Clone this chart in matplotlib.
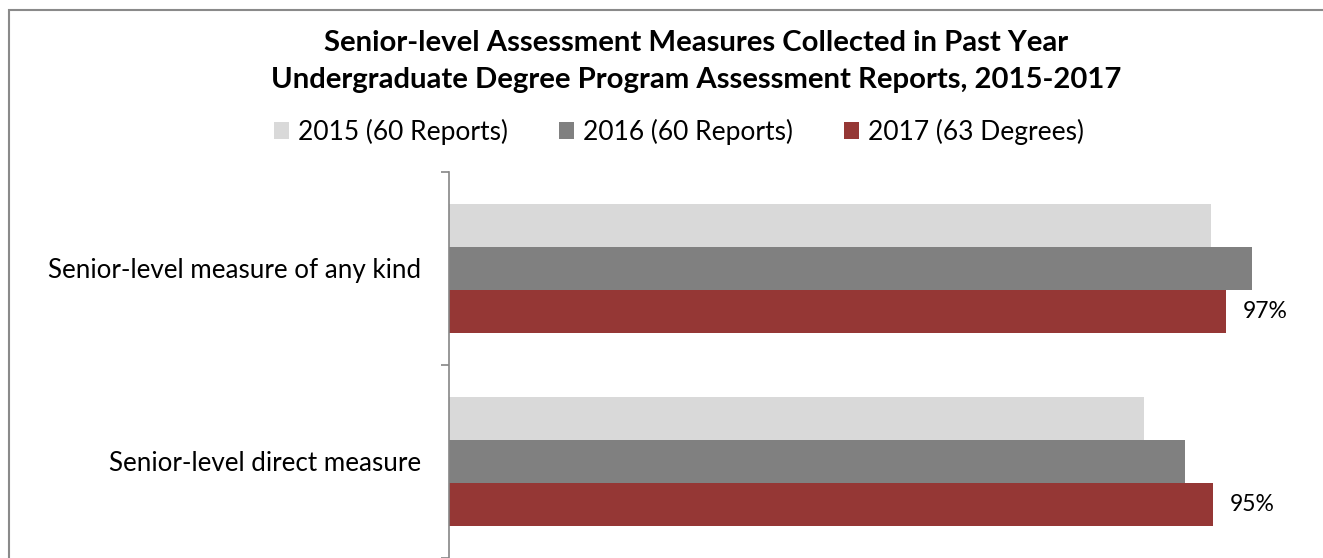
import matplotlib
matplotlib.use("Agg")
import matplotlib.pyplot as plt
from matplotlib.patches import Rectangle
import numpy as np

plt.rcParams['font.family'] = ['Lato', 'DejaVu Sans']

categories = ["Senior-level measure of any kind", "Senior-level direct measure"]
series = ["2015 (60 Reports)", "2016 (60 Reports)", "2017 (63 Degrees)"]
pct_2015 = [57 / 60 * 100, 52 / 60 * 100]
pct_2016 = [60 / 60 * 100, 55 / 60 * 100]
pct_2017 = [61 / 63 * 100, 60 / 63 * 100]
labels_2017 = ["97%", "95%"]
colors = ["#d9d9d9", "#808080", "#953735"]

W, H = 1323, 558
fig = plt.figure(figsize=(W / 100, H / 100), dpi=100)

# chart frame (cropped on right and bottom)
fig.patches.append(Rectangle((9 / W, -0.1), 2.0, (H - 9.5) / H + 0.1,
                             transform=fig.transFigure, fill=False,
                             edgecolor="#8a8a8a", linewidth=1.5))

left, top, right = 448.5, 171.7, 1300
ax = fig.add_axes([left / W, 0, (right - left) / W, (H - top) / H])
px_per_pct = 8.03
ax.set_xlim(0, (right - left) / px_per_pct)
ax.set_ylim(1.5, -0.5)

y = np.arange(len(categories))
h = 0.223
bars = []
for i, (vals, c) in enumerate(zip([pct_2015, pct_2016, pct_2017], colors)):
    bars.append(ax.barh(y + (i - 1) * h, vals, height=h, color=c, label=series[i]))

for yi, v, lab in zip(y, pct_2017, labels_2017):
    ax.annotate(lab, (v, yi + h), xytext=(12, 0), textcoords="offset points",
                va="center", ha="left", fontsize=16.5, color="#000000")

for s in ["top", "right", "bottom"]:
    ax.spines[s].set_visible(False)
ax.spines["left"].set_color("#868686")
ax.spines["left"].set_linewidth(1.2)
ax.xaxis.set_visible(False)

ax.set_yticks([-0.5, 0.5, 1.5])
ax.set_yticklabels([])
ax.tick_params(axis="y", which="major", length=6, width=1.2, color="#868686")
ax.set_yticks(y, minor=True)
ax.set_yticklabels(categories, minor=True, fontsize=18.7)
ax.tick_params(axis="y", which="minor", length=0, pad=19.5)

fig.text(696 / W, 1 - 61.5 / H,
         "Senior-level Assessment Measures Collected in Past Year\n"
         "Undergraduate Degree Program Assessment Reports, 2015-2017",
         ha="center", va="center", fontsize=21.1, fontweight="bold",
         linespacing=1.55)

fig.legend(handles=bars, labels=series, loc="center", ncol=3,
           bbox_to_anchor=(679 / W, 1 - 132 / H), frameon=False,
           fontsize=19, handlelength=0.6, handleheight=0.6,
           handletextpad=0.34, columnspacing=1.9)

fig.savefig("out.png", dpi=100)
